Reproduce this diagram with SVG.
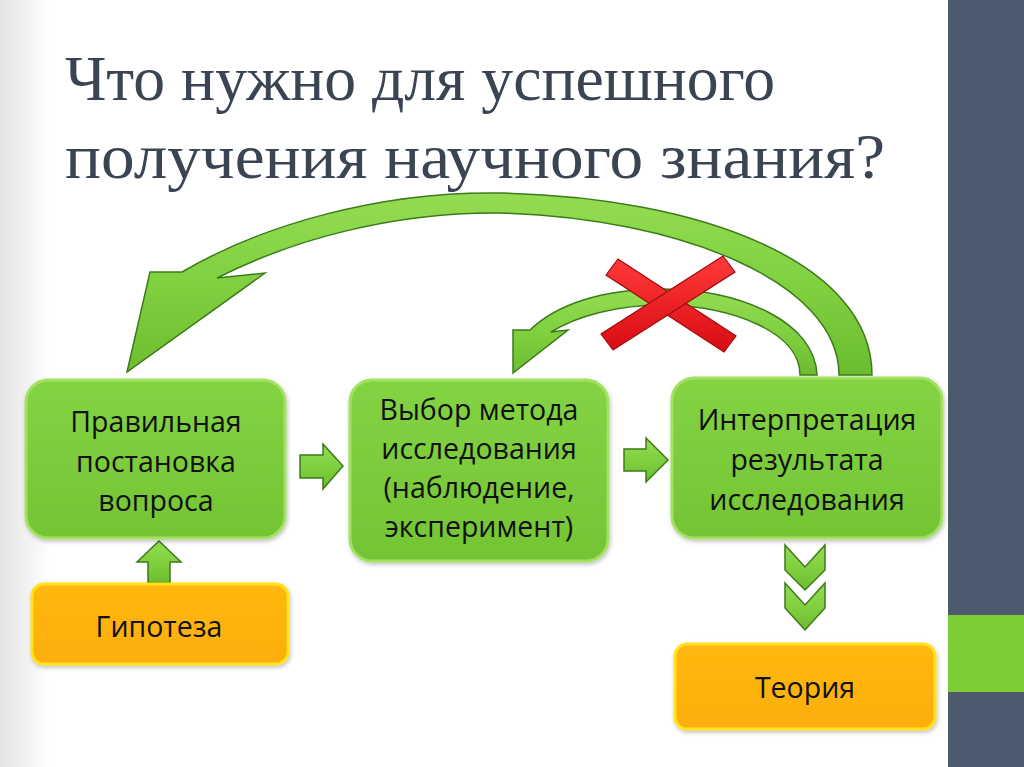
<svg xmlns="http://www.w3.org/2000/svg" width="1024" height="767" viewBox="0 0 1024 767">
<defs>
<linearGradient id="bg" x1="0" y1="0" x2="1" y2="0">
<stop offset="0" stop-color="#e4e4e4"/><stop offset="0.05" stop-color="#ffffff"/><stop offset="0.95" stop-color="#ffffff"/><stop offset="1" stop-color="#ececec"/>
</linearGradient>
<linearGradient id="gbox" x1="0" y1="0" x2="0" y2="1">
<stop offset="0" stop-color="#84d344"/><stop offset="1" stop-color="#74c434"/>
</linearGradient>
<linearGradient id="obox" x1="0" y1="0" x2="0" y2="1">
<stop offset="0" stop-color="#ffb812"/><stop offset="1" stop-color="#fcae08"/>
</linearGradient>
<linearGradient id="garr" x1="0" y1="0" x2="0" y2="1">
<stop offset="0" stop-color="#94dc52"/><stop offset="0.5" stop-color="#80d040"/><stop offset="1" stop-color="#6cbc30"/>
</linearGradient>
<linearGradient id="red" x1="0" y1="0" x2="0" y2="1">
<stop offset="0" stop-color="#ff3a3a"/><stop offset="1" stop-color="#d80c12"/>
</linearGradient>
<filter id="sh" x="-10%" y="-10%" width="120%" height="125%">
<feDropShadow dx="1" dy="2" stdDeviation="2" flood-color="#000" flood-opacity="0.25"/>
</filter>
<style>
.gb{fill:url(#gbox);stroke:#a4e062;stroke-width:3;filter:url(#sh)}
.ob{fill:url(#obox);stroke:#ffe21c;stroke-width:3;filter:url(#sh)}
.t{font-family:"Open Sans","Noto Sans",sans-serif;font-size:28.5px;fill:#111;text-anchor:middle}
.ttl{font-family:"Liberation Serif",serif;font-size:64px;fill:#3b4452}
.ga{fill:url(#garr);stroke:#3d7a1a;stroke-width:1.5;stroke-linejoin:miter}
</style>
</defs>
<rect x="0" y="0" width="1024" height="767" fill="url(#bg)"/>
<rect x="948" y="0" width="76" height="767" fill="#4d5a6d"/>
<rect x="948" y="615" width="76" height="77" fill="#7ecc38"/>

<g id="title">
<text class="ttl" x="65" y="100" textLength="710" lengthAdjust="spacingAndGlyphs">Что нужно для успешного</text>
<text class="ttl" x="65" y="178" textLength="820" lengthAdjust="spacingAndGlyphs">получения научного знания?</text>
</g>

<g id="connectors">
<path class="ga" d="M 872 375 C 872 262 700 197 500 193 C 380 191 262 225 182 272 L 150 272 L 127 372 L 265 273 L 217 278 C 292 240 392 212 500 213 C 680 218 839 282 839 375 Z"/>
<path class="ga" d="M 817 375 C 815 322 742 290 663 289 C 603 289 557 304 530 330 L 513 330 L 513 373 L 568 330 L 551 332 C 577 316 617 305 663 305 C 732 306 800 332 800 375 Z"/>
<path class="ga" d="M 300 455 L 323 455 L 323 444 L 343 466 L 323 489 L 323 478 L 300 478 Z"/>
<path class="ga" d="M 624 449 L 646 449 L 646 438 L 668 460 L 646 482 L 646 471 L 624 471 Z"/>
<path class="ga" d="M 148 583 L 148 562 L 137 562 L 159 541 L 181 562 L 170 562 L 170 583 Z"/>
<path class="ga" d="M 785 545 L 805 567 L 825 545 L 825 570 L 805 590 L 785 570 Z"/>
<path class="ga" d="M 785 583 L 805 605 L 825 583 L 825 608 L 805 630 L 785 608 Z"/>
<g id="cross">
<path d="M 606 275 L 618 259 L 736 336 L 724 352 Z" fill="url(#red)" stroke="#a00a0e" stroke-width="1.2"/>
<path d="M 613 350 L 601 334 L 723 256 L 735 272 Z" fill="url(#red)" stroke="#a00a0e" stroke-width="1.2"/>
</g>
</g>

<g id="node-question">
<rect class="gb" x="26" y="380" width="259" height="158" rx="22"/>
<text class="t" x="156" y="432">Правильная</text>
<text class="t" x="156" y="472">постановка</text>
<text class="t" x="156" y="511">вопроса</text>
</g>
<g id="node-method">
<rect class="gb" x="350" y="380" width="258" height="181" rx="22"/>
<text class="t" x="479" y="420">Выбор метода</text>
<text class="t" x="479" y="459">исследования</text>
<text class="t" x="479" y="498">(наблюдение,</text>
<text class="t" x="479" y="537">эксперимент)</text>
</g>
<g id="node-interp">
<rect class="gb" x="672" y="378" width="270" height="160" rx="22"/>
<text class="t" x="807" y="430">Интерпретация</text>
<text class="t" x="807" y="470">результата</text>
<text class="t" x="807" y="510">исследования</text>
</g>
<g id="node-hypothesis">
<rect class="ob" x="32" y="584" width="256" height="80" rx="12"/>
<text class="t" x="159" y="637">Гипотеза</text>
</g>
<g id="node-theory">
<rect class="ob" x="675" y="644" width="260" height="85" rx="12"/>
<text class="t" x="805" y="698">Теория</text>
</g>
</svg>
